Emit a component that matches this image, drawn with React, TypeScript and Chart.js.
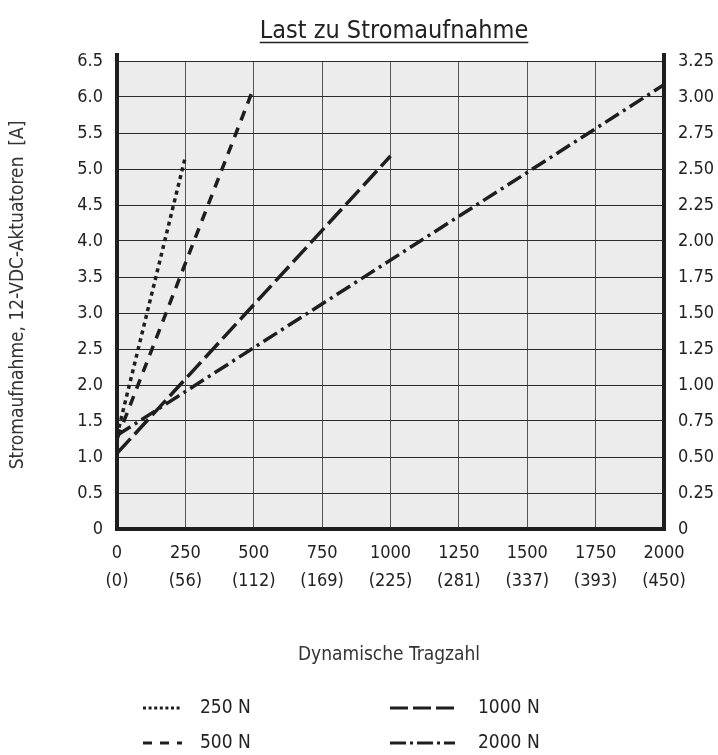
import React, { useEffect, useRef } from 'react';
import { Chart, registerables } from 'chart.js';

Chart.register(...registerables);

const TITLE = 'Last zu Stromaufnahme';
const X_TITLE = 'Dynamische Tragzahl';
const Y_TITLE = 'Stromaufnahme, 12-VDC-Aktuatoren  [A]';

const SERIES_LABELS = ['250 N', '500 N', '1000 N', '2000 N'];
const LOAD_250 = [0, 250];
const AMP_250 = [1.3, 5.17];
const LOAD_500 = [0, 500];
const AMP_500 = [1.25, 6.13];
const LOAD_1000 = [0, 1000];
const AMP_1000 = [1.05, 5.18];
const LOAD_2000 = [0, 2000];
const AMP_2000 = [1.3, 6.17];

const X_TICKS = [0, 250, 500, 750, 1000, 1250, 1500, 1750, 2000];
const X_SUBLABELS = ['(0)', '(56)', '(112)', '(169)', '(225)', '(281)', '(337)', '(393)', '(450)'];
const Y_LEFT_MAX = 6.5;
const Y_LEFT_STEP = 0.5;
const Y_RIGHT_MAX = 3.25;
const Y_RIGHT_STEP = 0.25;

const FONT = "'DejaVu Sans Condensed', 'Liberation Sans Narrow', 'Liberation Sans', sans-serif";
const INK = '#1e1e1e';
const DASHES: number[][] = [[4, 4], [10, 8], [20, 6], [16, 5, 3, 5]];
const LEGEND_DASHES: number[][] = [[3, 2.6], [9, 8], [18, 5], [16, 4, 3, 4]];

function pts(xs: number[], ys: number[]) {
  return xs.map((x, i) => ({ x, y: ys[i] }));
}

const decorPlugin = {
  id: 'decor',
  beforeDraw(chart: any) {
    const { ctx, chartArea: a } = chart;
    ctx.save();
    ctx.fillStyle = '#ececec';
    ctx.fillRect(a.left, a.top, a.right - a.left, a.bottom - a.top);
    ctx.restore();
  },
  afterDraw(chart: any) {
    const { ctx, chartArea: a } = chart;
    ctx.save();
    ctx.strokeStyle = INK;
    ctx.lineWidth = 4;
    ctx.lineCap = 'butt';
    ctx.beginPath();
    ctx.moveTo(a.left, a.top - 8);
    ctx.lineTo(a.left, a.bottom + 2);
    ctx.moveTo(a.right, a.top - 8);
    ctx.lineTo(a.right, a.bottom + 2);
    ctx.moveTo(a.left - 2, a.bottom);
    ctx.lineTo(a.right + 2, a.bottom);
    ctx.stroke();

    ctx.fillStyle = '#222';
    ctx.font = `25px ${FONT}`;
    ctx.textAlign = 'center';
    ctx.textBaseline = 'alphabetic';
    const cx = 394;
    ctx.fillText(TITLE, cx, 38);
    const tw = ctx.measureText(TITLE).width;
    ctx.lineWidth = 1.5;
    ctx.strokeStyle = '#222';
    ctx.beginPath();
    ctx.moveTo(cx - tw / 2, 42.5);
    ctx.lineTo(cx + tw / 2, 42.5);
    ctx.stroke();

    ctx.font = `19px ${FONT}`;
    ctx.fillStyle = '#333';
    ctx.textBaseline = 'middle';
    ctx.fillText(X_TITLE, 389, 655);

    ctx.save();
    ctx.translate(18, (a.top + a.bottom) / 2);
    ctx.rotate(-Math.PI / 2);
    ctx.font = `19px ${FONT}`;
    ctx.fillText(Y_TITLE, 0, 0);
    ctx.restore();

    const pos = [
      { x1: 143, x2: 182, tx: 200, y: 708 },
      { x1: 143, x2: 182, tx: 200, y: 743 },
      { x1: 390, x2: 455, tx: 478, y: 708 },
      { x1: 390, x2: 455, tx: 478, y: 743 },
    ];
    chart.data.datasets.forEach((ds: any, i: number) => {
      const p = pos[i];
      ctx.strokeStyle = INK;
      ctx.lineWidth = 3;
      ctx.setLineDash(LEGEND_DASHES[i]);
      ctx.beginPath();
      ctx.moveTo(p.x1, p.y);
      ctx.lineTo(p.x2, p.y);
      ctx.stroke();
      ctx.setLineDash([]);
      ctx.fillStyle = '#222';
      ctx.font = `19px ${FONT}`;
      ctx.textAlign = 'left';
      ctx.textBaseline = 'middle';
      ctx.fillText(ds.label, p.tx, p.y);
    });
    ctx.restore();
  },
};

export default function App() {
  const ref = useRef<HTMLCanvasElement | null>(null);
  useEffect(() => {
    document.body.style.margin = '0';
    const canvas = ref.current!;
    const series = [
      pts(LOAD_250, AMP_250),
      pts(LOAD_500, AMP_500),
      pts(LOAD_1000, AMP_1000),
      pts(LOAD_2000, AMP_2000),
    ];
    const chart = new Chart(canvas, {
      type: 'line',
      data: {
        datasets: series.map((d, i) => ({
          label: SERIES_LABELS[i],
          data: d,
          borderColor: INK,
          borderWidth: 3.5,
          borderDash: DASHES[i],
          borderCapStyle: 'butt',
          pointRadius: 0,
          fill: false,
          tension: 0,
          yAxisID: 'y',
        })),
      },
      options: {
        animation: false,
        responsive: false,
        devicePixelRatio: 1,
        layout: { padding: { top: 61, left: 0, right: 0, bottom: 0 } },
        plugins: { legend: { display: false }, tooltip: { enabled: false }, title: { display: false } },
        scales: {
          x: {
            type: 'linear',
            min: 0,
            max: 2000,
            afterFit: (s: any) => { s.height = 226; },
            afterBuildTicks: (s: any) => { s.ticks = X_TICKS.map((v) => ({ value: v })); },
            border: { display: false },
            grid: { color: '#555', lineWidth: 1, drawTicks: false },
            ticks: {
              color: '#222',
              padding: 10,
              maxRotation: 0,
              autoSkip: false,
              font: { family: FONT, size: 18, lineHeight: 1.55 },
              callback: (v: any) => {
                const i = X_TICKS.indexOf(Number(v));
                return [String(v), X_SUBLABELS[i] ?? ''];
              },
            },
          },
          y: {
            position: 'left',
            min: 0,
            max: Y_LEFT_MAX,
            afterFit: (s: any) => { s.width = 117; },
            border: { display: false },
            grid: { color: '#2a2a2a', lineWidth: 1, drawTicks: false },
            ticks: {
              stepSize: Y_LEFT_STEP,
              color: '#222',
              padding: 14,
              font: { family: FONT, size: 18 },
              callback: (v: any) => (Number(v) === 0 ? '0' : Number(v).toFixed(1)),
            },
          },
          y1: {
            position: 'right',
            min: 0,
            max: Y_RIGHT_MAX,
            afterFit: (s: any) => { s.width = 54; },
            border: { display: false },
            grid: { display: false, drawTicks: false },
            ticks: {
              stepSize: Y_RIGHT_STEP,
              color: '#222',
              padding: 14,
              font: { family: FONT, size: 18 },
              callback: (v: any) => (Number(v) === 0 ? '0' : Number(v).toFixed(2)),
            },
          },
        },
      },
      plugins: [decorPlugin],
    } as any);
    return () => chart.destroy();
  }, []);
  return (
    <div style={{ width: 718, height: 755 }}>
      <canvas ref={ref} width={718} height={755} />
    </div>
  );
}
